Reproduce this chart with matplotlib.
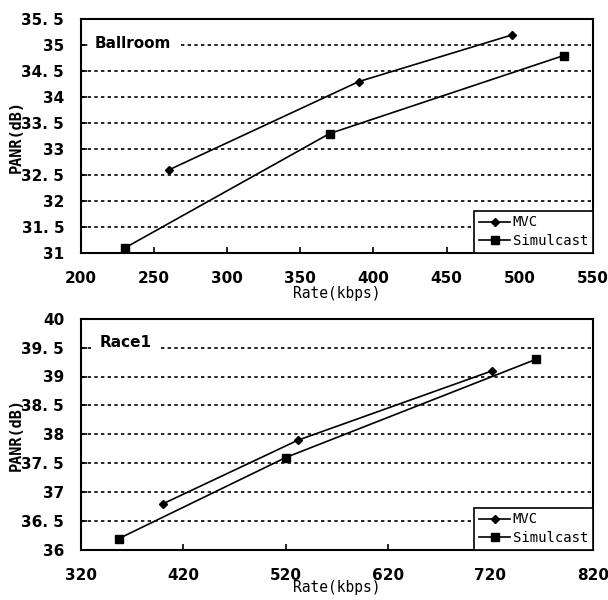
import matplotlib.pyplot as plt

# Ballroom
ball_mvc_rate = [260, 390, 495]
ball_mvc_psnr = [32.6, 34.3, 35.2]
ball_sim_rate = [230, 370, 530]
ball_sim_psnr = [31.1, 33.3, 34.8]

# Race1
race_mvc_rate = [400, 532, 722]
race_mvc_psnr = [36.8, 37.9, 39.1]
race_sim_rate = [357, 520, 765]
race_sim_psnr = [36.2, 37.6, 39.3]

ball_xticks = [200, 250, 300, 350, 400, 450, 500, 550]
ball_yticks = [31, 31.5, 32, 32.5, 33, 33.5, 34, 34.5, 35, 35.5]
race_xticks = [320, 420, 520, 620, 720, 820]
race_yticks = [36, 36.5, 37, 37.5, 38, 38.5, 39, 39.5, 40]


def fmt(v):
    s = ("%g" % v)
    return s.replace(".", ". ")


def panel(ax, title, tx, mr, mp, sr, sp, xt, yt, xpad):
    for y in yt[1:-1]:
        ax.axhline(y, color="black", lw=1.2, ls=(0, (2, 2)), zorder=1)
    ax.plot(mr, mp, color="black", lw=1.2, marker="D", ms=4.5, label="MVC", zorder=3)
    ax.plot(sr, sp, color="black", lw=1.2, marker="s", ms=5.5, label="Simulcast", zorder=3)
    ax.set_xlim(xt[0], xt[-1])
    ax.set_ylim(yt[0], yt[-1])
    ax.set_xticks(xt)
    ax.set_yticks(yt)
    ax.set_xticklabels([str(x) for x in xt], fontsize=11, fontweight="bold")
    ax.set_yticklabels([fmt(y) for y in yt], fontsize=11, fontweight="bold")
    ax.tick_params(axis="x", direction="in", length=4, width=1.2, pad=13)
    ax.tick_params(axis="y", direction="in", length=4, width=1.2, pad=12)
    for sp_ in ax.spines.values():
        sp_.set_linewidth(1.5)
    ax.text(tx, 0.895, title, transform=ax.transAxes, va="center",
            fontsize=11, fontweight="bold", family="DejaVu Sans",
            bbox=dict(facecolor="white", edgecolor="none", pad=5), zorder=4)
    ax.set_xlabel("Rate(kbps)", family="DejaVu Sans Mono", fontsize=10.5, labelpad=xpad)
    ax.set_ylabel("PANR(dB)", family="DejaVu Sans Mono", fontsize=11, fontweight="bold", labelpad=-2)
    leg = ax.legend(loc="lower right", fancybox=False, framealpha=1, edgecolor="black",
                    borderaxespad=0, prop={"family": "DejaVu Sans Mono", "size": 10},
                    handlelength=2.2, handletextpad=0.2, borderpad=0.35, labelspacing=0.35)
    leg.get_frame().set_linewidth(1.2)


fig = plt.figure(figsize=(6.08, 6.0), dpi=100)
ax1 = fig.add_axes([0.133, 0.578, 0.842, 0.39])
ax2 = fig.add_axes([0.133, 0.083, 0.842, 0.386])
panel(ax1, "Ballroom", 0.027, ball_mvc_rate, ball_mvc_psnr, ball_sim_rate, ball_sim_psnr,
      ball_xticks, ball_yticks, 0)
panel(ax2, "Race1", 0.037, race_mvc_rate, race_mvc_psnr, race_sim_rate, race_sim_psnr,
      race_xticks, race_yticks, -2)

fig.savefig("out.png", dpi=100)
